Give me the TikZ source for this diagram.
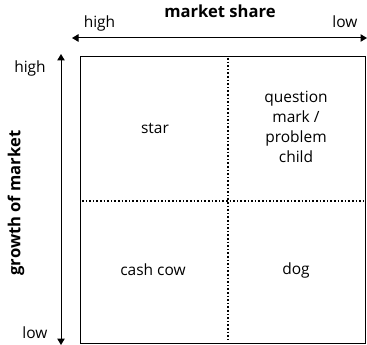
\documentclass[tikz,border=0pt]{standalone}
\usepackage{fontspec}
\setmainfont{Open Sans}
\usetikzlibrary{arrows.meta}
\begin{document}
\begin{tikzpicture}[x=1pt,y=-1pt,
  lbl/.style={font=\fontsize{15.5}{20}\selectfont, inner sep=0pt, anchor=base},
  ttl/.style={font=\fontsize{16.6}{20}\selectfont\bfseries, inner sep=0pt},
  quad/.style={font=\fontsize{15.5}{20}\selectfont, align=center, inner sep=0pt},
  axis/.style={line width=1pt, {Triangle[length=6.5pt,width=7.5pt]}-{Triangle[length=6.5pt,width=7.5pt]}},
  divider/.style={line width=1.6pt, dotted}]
\useasboundingbox (0,0) rectangle (367,345);
\draw[line width=0.8pt] (80,56) rectangle (365,343);
\coordinate (ha) at (72,38);
\coordinate (hb) at (367,38);
\draw[axis] (ha) -- (hb);
\coordinate (va) at (61,54);
\coordinate (vb) at (61,345);
\draw[axis] (va) -- (vb);
\coordinate (dt) at (228,58);
\coordinate (db) at (228,341);
\coordinate (dl) at (82,201);
\coordinate (dr) at (363,201);
\draw[divider] (dt) -- (db);
\draw[divider] (dl) -- (dr);
\node[ttl, anchor=base] (ms) at (220,18) {market share};
\node[lbl] (hh) at (99.5,28) {high};
\node[lbl] (hl) at (345,28) {low};
\node[lbl] (vh) at (30,73) {high};
\node[lbl] (vl) at (35,338) {low};
\node[ttl, rotate=90] (gm) at (16,203) {growth of market};
\node[quad] (star) at (155,128) {star};
\node[quad] (qm) at (296,127) {question\\mark /\\problem\\child};
\node[quad] (cc) at (153,270) {cash cow};
\node[quad] (dog) at (296,270) {dog};
\end{tikzpicture}
\end{document}
